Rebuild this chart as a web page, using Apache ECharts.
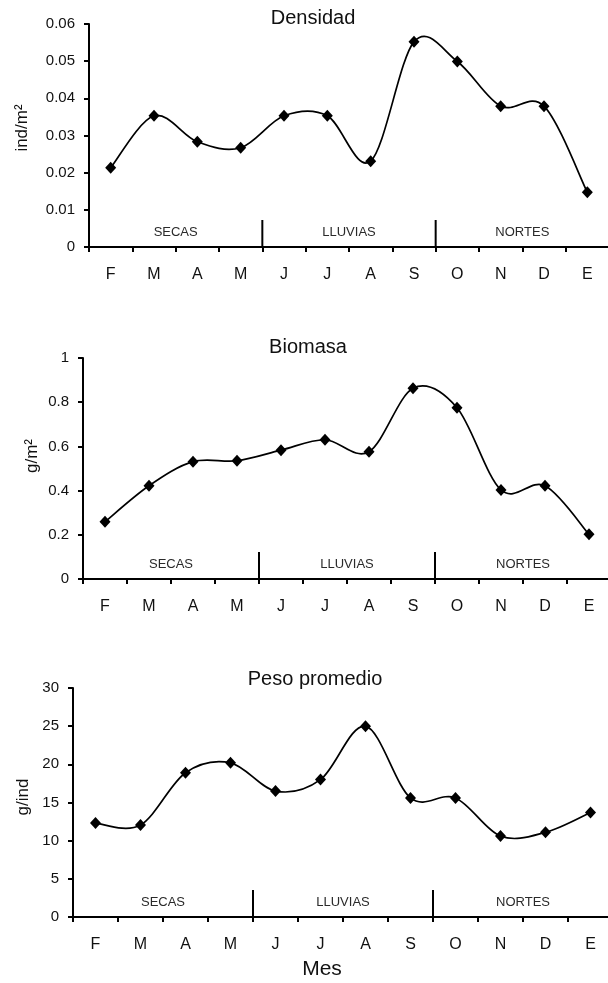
<!DOCTYPE html>
<html>
<head>
<meta charset="utf-8">
<script src="https://cdn.jsdelivr.net/npm/echarts@6/dist/echarts.min.js"></script>
<style>
html,body{margin:0;padding:0;background:#fff;}
#chart{width:608px;height:983px;}
</style>
</head>
<body>
<div id="chart"></div>
<script>
// ---- data ----
const months = ['F','M','A','M','J','J','A','S','O','N','D','E'];
const densidad = [0.0213, 0.0353, 0.0283, 0.0267, 0.0353, 0.0353, 0.0231, 0.0552, 0.0499, 0.0379, 0.0379, 0.0147];
const biomasa = [0.259, 0.422, 0.531, 0.535, 0.583, 0.630, 0.576, 0.863, 0.775, 0.403, 0.422, 0.202];
const pesoPromedio = [12.3, 12.05, 18.9, 20.2, 16.5, 18.0, 25.0, 15.6, 15.6, 10.6, 11.1, 13.7];
const seasonNames = ['SECAS', 'LLUVIAS', 'NORTES'];
const seasonStart = [0, 4, 8];
const seasonEnd = [3, 7, 11];
const panelTitles = ['Densidad', 'Biomasa', 'Peso promedio'];
const yNames = ['ind/m\u00B2', 'g/m\u00B2', 'g/ind'];
const yMax = [0.06, 1, 30];
const yInterval = [0.01, 0.2, 5];
const xName = 'Mes';

const FONT = '"Liberation Sans", Arial, sans-serif';

const chart = echarts.init(document.getElementById('chart'), null, {renderer: 'canvas'});

const grids = [
  {left: 89, top: 24, height: 223, right: -1},
  {left: 83, top: 358, height: 221, right: -3},
  {left: 73, top: 688, height: 229, right: -5}
];
const seriesData = [densidad, biomasa, pesoPromedio];

const seasonData = seasonNames.map((n, i) => [seasonStart[i], 0, seasonEnd[i]]);

function renderSeason(params, api) {
  const s = api.value(0), e = api.value(2);
  const p0 = api.coord([s, 0]);
  const p1 = api.coord([e, 0]);
  const bw = api.size([1, 0])[0];
  const left = p0[0] - bw / 2, right = p1[0] + bw / 2;
  const y0 = p0[1];
  const children = [{
    type: 'text',
    style: {
      text: seasonNames[params.dataIndex],
      x: (left + right) / 2, y: y0 - 15,
      align: 'center', verticalAlign: 'middle',
      fill: '#2a2a2a', font: '13px ' + FONT
    }
  }];
  if (s > 0) {
    children.push({
      type: 'line',
      shape: {x1: left, y1: y0 + 1, x2: left, y2: y0 - 27},
      style: {stroke: '#000', lineWidth: 2}
    });
  }
  return {type: 'group', children};
}

// Smoothed (Catmull-Rom style) segment between point i and i+1, positioned through the axes
function renderCurve(params, api) {
  const i = params.dataIndexInside;
  const n = params.dataInsideLength;
  if (i >= n - 1) return null;
  const pt = j => {
    const k = Math.max(0, Math.min(n - 1, j));
    return api.coord([api.value(0, k), api.value(1, k)]);
  };
  const p0 = pt(i - 1), p1 = pt(i), p2 = pt(i + 1), p3 = pt(i + 2);
  const t = 1 / 6;
  return {
    type: 'bezierCurve',
    shape: {
      x1: p1[0], y1: p1[1],
      cpx1: p1[0] + (p2[0] - p0[0]) * t, cpy1: p1[1] + (p2[1] - p0[1]) * t,
      cpx2: p2[0] - (p3[0] - p1[0]) * t, cpy2: p2[1] - (p3[1] - p1[1]) * t,
      x2: p2[0], y2: p2[1]
    },
    style: {stroke: '#000', lineWidth: 1.7, fill: null}
  };
}

const option = {
  animation: false,
  backgroundColor: '#fff',
  grid: grids.map(g => Object.assign({containLabel: false, outerBoundsMode: 'none'}, g)),
  xAxis: grids.map((g, i) => ({
    type: 'category',
    gridIndex: i,
    data: months,
    boundaryGap: true,
    axisLine: {lineStyle: {color: '#000', width: 2}},
    axisTick: {show: true, length: 5, alignWithLabel: false, lineStyle: {color: '#000', width: 2}},
    axisLabel: {color: '#111', fontSize: 16, fontFamily: FONT, margin: 20, interval: 0},
    splitLine: {show: false}
  })),
  yAxis: grids.map((g, i) => ({
    type: 'value',
    gridIndex: i,
    min: 0, max: yMax[i], interval: yInterval[i],
    axisLine: {show: true, lineStyle: {color: '#000', width: 2}},
    axisTick: {show: true, length: 5, lineStyle: {color: '#000', width: 2}},
    axisLabel: {color: '#111', fontSize: 15, fontFamily: FONT, margin: 14},
    splitLine: {show: false}
  })),
  series: [].concat(
    seriesData.map((d, i) => ({
      type: 'custom',
      name: panelTitles[i] + ' curve',
      xAxisIndex: i, yAxisIndex: i,
      data: d.map((v, k) => [k, v]),
      encode: {x: 0, y: 1},
      renderItem: renderCurve,
      silent: true,
      clip: false,
      z: 4
    })),
    seriesData.map((d, i) => ({
      type: 'scatter',
      name: panelTitles[i],
      xAxisIndex: i, yAxisIndex: i,
      data: d,
      symbol: 'diamond',
      symbolSize: [11, 12],
      itemStyle: {color: '#000', opacity: 1},
      z: 6
    })),
    grids.map((g, i) => ({
      type: 'custom',
      xAxisIndex: i, yAxisIndex: i,
      data: seasonData,
      encode: {x: 0, y: 1},
      renderItem: renderSeason,
      silent: true,
      clip: false,
      z: 3
    }))
  ),
  graphic: [
    {type: 'text', x: 313, y: 18, style: {text: panelTitles[0], align: 'center', verticalAlign: 'middle', fill: '#111', font: '20px ' + FONT}},
    {type: 'text', x: 308, y: 347, style: {text: panelTitles[1], align: 'center', verticalAlign: 'middle', fill: '#111', font: '20px ' + FONT}},
    {type: 'text', x: 315, y: 679, style: {text: panelTitles[2], align: 'center', verticalAlign: 'middle', fill: '#111', font: '20px ' + FONT}},
    {type: 'text', x: 322, y: 969, style: {text: xName, align: 'center', verticalAlign: 'middle', fill: '#111', font: '21px ' + FONT}},
    {type: 'text', x: 22, y: 128, rotation: Math.PI / 2, style: {text: yNames[0], align: 'center', verticalAlign: 'middle', fill: '#111', font: '17px ' + FONT}},
    {type: 'text', x: 32, y: 456, rotation: Math.PI / 2, style: {text: yNames[1], align: 'center', verticalAlign: 'middle', fill: '#111', font: '17px ' + FONT}},
    {type: 'text', x: 23, y: 797, rotation: Math.PI / 2, style: {text: yNames[2], align: 'center', verticalAlign: 'middle', fill: '#111', font: '17px ' + FONT}}
  ]
};
chart.setOption(option);
</script>
</body>
</html>
